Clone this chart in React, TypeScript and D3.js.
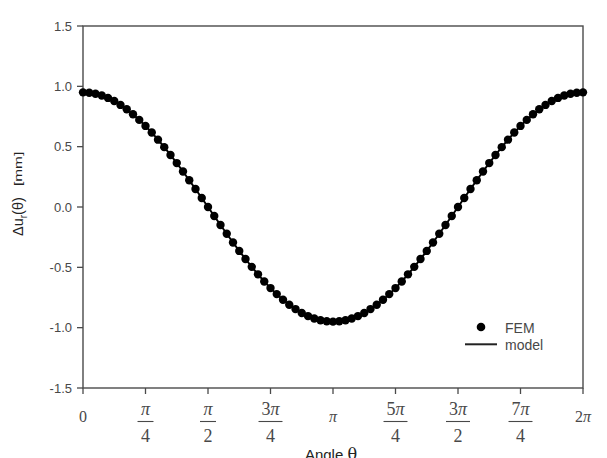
import React from 'react';
import * as d3 from 'd3';

// FEM samples, 4.5 degree steps from 0 to 2*pi (81 points)
const femValues = [
  0.950, 0.947, 0.938, 0.924, 0.904, 0.878, 0.846, 0.810, 0.769, 0.722,
  0.672, 0.617, 0.558, 0.496, 0.431, 0.364, 0.294, 0.222, 0.149, 0.075,
  0.000, -0.075, -0.149, -0.222, -0.294, -0.364, -0.431, -0.496, -0.558, -0.617,
  -0.672, -0.722, -0.769, -0.810, -0.846, -0.878, -0.904, -0.924, -0.938, -0.947,
  -0.950, -0.947, -0.938, -0.924, -0.904, -0.878, -0.846, -0.810, -0.769, -0.722,
  -0.672, -0.617, -0.558, -0.496, -0.431, -0.364, -0.294, -0.222, -0.149, -0.075,
  0.000, 0.075, 0.149, 0.222, 0.294, 0.364, 0.431, 0.496, 0.558, 0.617,
  0.672, 0.722, 0.769, 0.810, 0.846, 0.878, 0.904, 0.924, 0.938, 0.947,
  0.950,
];
// model curve (same as FEM, hidden under the dots)
const modelValues = femValues.slice();

const yTicks = [-1.5, -1.0, -0.5, 0.0, 0.5, 1.0, 1.5];
// x ticks as multiples of pi/4, with label parts: [numerator, denominator]
const xTicks = [0, 1, 2, 3, 4, 5, 6, 7, 8];
const xTickLabels: [string, string][] = [
  ['0', ''], ['π', '4'], ['π', '2'], ['3π', '4'], ['π', ''],
  ['5π', '4'], ['3π', '2'], ['7π', '4'], ['2π', ''],
];

const W = 607;
const H = 458;
const m = { left: 83, right: 583, top: 26, bottom: 388 };
const axisCol = '#4a4a4a';
const labelCol = '#484848';
const serif = 'Liberation Serif, Times New Roman, serif';
const sans = 'Liberation Sans, Arial, sans-serif';

const App: React.FC = () => {
  const x = d3.scaleLinear().domain([0, 2 * Math.PI]).range([m.left, m.right]);
  const y = d3.scaleLinear().domain([-1.5, 1.5]).range([m.bottom, m.top]);
  const step = (2 * Math.PI) / (femValues.length - 1);

  const line = d3.line<number>()
    .x((_, i) => x(i * step))
    .y(d => y(d));

  return (
    <svg width={W} height={H} style={{ position: 'absolute', left: 0, top: 0, background: '#fff' }}>
      {/* frame */}
      <rect x={m.left} y={m.top} width={m.right - m.left} height={m.bottom - m.top}
        fill="none" stroke={axisCol} strokeWidth={1.4} />

      {/* y ticks */}
      {yTicks.map(t => (
        <g key={t}>
          <line x1={m.left - 6} x2={m.left} y1={y(t)} y2={y(t)} stroke={axisCol} strokeWidth={1.3} />
          <text x={72} y={y(t) + 4.5} textAnchor="end" fontFamily={sans}
            fontSize={13} fill={labelCol}>{t.toFixed(1)}</text>
        </g>
      ))}

      {/* x ticks */}
      {xTicks.map((k, i) => {
        const px = x((k * Math.PI) / 4);
        const [num, den] = xTickLabels[i];
        const pre = num.replace('π', '');
        const hasPi = num.includes('π');
        const barW = num.length > 1 ? 24 : 16;
        return (
          <g key={k}>
            <line x1={px} x2={px} y1={m.bottom} y2={m.bottom + 6} stroke={axisCol} strokeWidth={1.3} />
            {den === '' ? (
              <text x={px} y={422} textAnchor="middle" fontFamily={serif} fontSize={16} fill={labelCol}>
                {pre}{hasPi && <tspan fontStyle="italic">π</tspan>}
              </text>
            ) : (
              <g>
                <text x={px} y={415} textAnchor="middle" fontFamily={serif} fontSize={18} fill={labelCol}>
                  {pre}<tspan fontStyle="italic">π</tspan>
                </text>
                <line x1={px - barW / 2} x2={px + barW / 2} y1={421.5} y2={421.5} stroke={labelCol} strokeWidth={1.1} />
                <text x={px} y={442} textAnchor="middle" fontFamily={serif} fontSize={18} fill={labelCol}>{den}</text>
              </g>
            )}
          </g>
        );
      })}

      {/* model line */}
      <path d={line(modelValues) || ''} fill="none" stroke="#000" strokeWidth={2} />

      {/* FEM dots */}
      {femValues.map((v, i) => (
        <circle key={i} cx={x(i * step)} cy={y(v)} r={4.2} fill="#000" />
      ))}

      {/* legend */}
      <circle cx={481} cy={327} r={4.3} fill="#000" />
      <text x={505} y={332.5} fontFamily={sans} fontSize={14} fill={labelCol}>FEM</text>
      <line x1={465} x2={497} y1={344.3} y2={344.3} stroke="#222" strokeWidth={2} />
      <text x={505} y={350} fontFamily={sans} fontSize={14} fill={labelCol}>model</text>

      {/* x axis title */}
      <text x={331} y={460} textAnchor="middle" fontFamily={sans} fontSize={15} fill="#222">
        Angle <tspan fontSize={16} fontFamily="DejaVu Serif, serif">θ</tspan>
      </text>

      {/* y axis title */}
      <text transform="translate(23,236) rotate(-90)" fontFamily={sans} fill="#222" fontSize={14.5}>
        Δu<tspan fontSize={10} dy={4}>r</tspan><tspan dy={-4}>(θ)</tspan>
      </text>
      <text transform="translate(22,186) rotate(-90) scale(1.4,1)" fontFamily={sans} fill="#222" fontSize={11}>
        [mm]
      </text>
    </svg>
  );
};

export default App;
